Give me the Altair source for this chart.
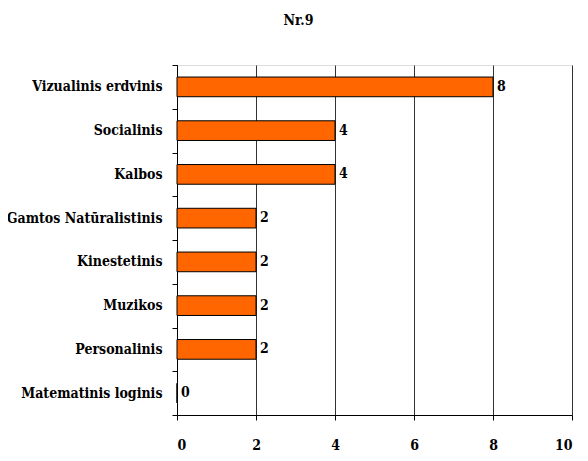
import altair as alt
import pandas as pd

categories = [
    "Vizualinis erdvinis",
    "Socialinis",
    "Kalbos",
    "Gamtos Natūralistinis",
    "Kinestetinis",
    "Muzikos",
    "Personalinis",
    "Matematinis loginis",
]
values = [8, 4, 4, 2, 2, 2, 2, 0]
x_ticks = [0, 2, 4, 6, 8, 10]

df = pd.DataFrame({"category": categories, "value": values})

FONT = "DejaVu Serif Condensed"
FS = 14

y_enc = alt.Y(
    "category:N",
    sort=categories,
    title=None,
    scale=alt.Scale(paddingInner=0, paddingOuter=0),
    axis=alt.Axis(
        tickBand="extent",
        tickSize=5,
        tickColor="black",
        domainColor="black",
        labelPadding=10,
        labelFont=FONT,
        labelFontWeight="bold",
        labelFontSize=FS,
        labelColor="black",
        grid=False,
    ),
)

x_enc = alt.X(
    "value:Q",
    title=None,
    scale=alt.Scale(domain=[0, 10], nice=False),
    axis=alt.Axis(
        values=x_ticks,
        tickSize=5,
        tickColor="black",
        domainColor="black",
        labelPadding=18,
        labelFont=FONT,
        labelFontWeight="bold",
        labelFontSize=FS,
        labelColor="black",
        grid=True,
        gridColor="#333333",
        gridOpacity=1,
        gridWidth=1,
    ),
)

bars = alt.Chart(df).mark_bar(
    color="#FF6600",
    stroke="black",
    strokeWidth=1,
    height=alt.RelativeBandSize(0.45),
).encode(x=x_enc, y=y_enc)

labels = alt.Chart(df).mark_text(
    align="left",
    baseline="middle",
    dx=4,
    font=FONT,
    fontWeight="bold",
    fontSize=FS,
    color="black",
).encode(
    x=alt.X("value:Q"),
    y=alt.Y("category:N", sort=categories),
    text=alt.Text("value:Q"),
)

chart = (
    alt.layer(bars, labels)
    .properties(
        width=395,
        height=350,
        autosize=alt.AutoSizeParams(type="none"),
        padding={"left": 169, "top": 57, "right": 8, "bottom": 37},
        title=alt.TitleParams(
            "Nr.9",
            font=FONT,
            fontWeight="bold",
            fontSize=FS,
            color="black",
            anchor="middle",
            dx=-76,
            offset=30,
        ),
    )
    .configure_view(strokeWidth=0)
    .configure(background="white")
)

chart.save("out.html", embed_options={"renderer": "svg", "actions": False})
